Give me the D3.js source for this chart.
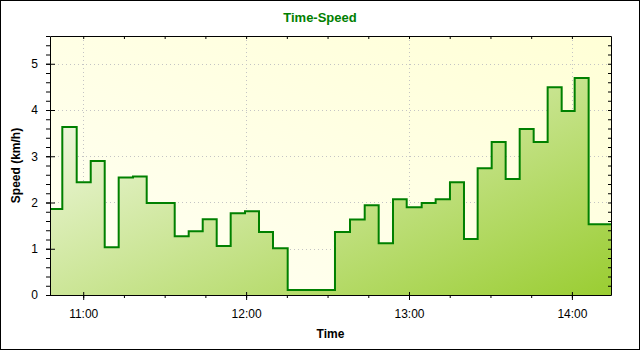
<!DOCTYPE html>
<html>
<head>
<meta charset="utf-8">
<script src="https://cdn.jsdelivr.net/npm/d3@7"></script>
<style>
  body { margin: 0; background: #fff; }
  svg text { font-family: "Liberation Sans", Arial, sans-serif; }
</style>
</head>
<body>
<svg id="chart" width="640" height="350"></svg>
<script>
// sample times (hh:mm:ss) and the speed measured from that time on
var times = ["10:47:46", "10:52:18", "10:57:36", "11:02:46", "11:07:55", "11:13:04",
             "11:18:20", "11:23:23", "11:28:33", "11:33:42", "11:38:51", "11:44:01",
             "11:49:10", "11:54:19", "11:59:35", "12:04:45", "12:09:54", "12:15:19",
             "12:32:44", "12:38:16", "12:43:41", "12:48:50", "12:54:06", "12:59:09",
             "13:04:40", "13:09:49", "13:15:05", "13:20:15", "13:25:17", "13:30:27",
             "13:35:36", "13:40:46", "13:45:55", "13:51:04", "13:56:14", "14:01:01",
             "14:06:10", "14:14:24"];
var speeds = [1.86, 3.63, 2.44, 2.90, 1.03, 2.54,
              2.56, 1.99, 1.99, 1.27, 1.38, 1.64,
              1.06, 1.77, 1.81, 1.36, 1.01, 0.11,
              1.36, 1.63, 1.94, 1.12, 2.07, 1.90,
              1.99, 2.07, 2.44, 1.21, 2.74, 3.31,
              2.51, 3.59, 3.31, 4.49, 3.98, 4.69,
              1.53, 1.53];
var yMajorTicks = [0, 1, 2, 3, 4, 5];
var yMax = 5.6;
var xMajorTicks = ["11:00", "12:00", "13:00", "14:00"];

const parseTime = d3.timeParse("%H:%M:%S");
const parseHM = d3.timeParse("%H:%M");
const data = times.map((t, i) => ({ t: parseTime(t), v: speeds[i] }));

const svg = d3.select("#chart"),
      margin = {top: 36, right: 29, bottom: 55, left: 50},
      width  = +svg.attr("width") - margin.left - margin.right,
      height = +svg.attr("height") - margin.top - margin.bottom;

const x = d3.scaleTime()
    .domain([data[0].t, data[data.length - 1].t])
    .range([margin.left, margin.left + width]);
const y = d3.scaleLinear()
    .domain([0, yMax])
    .range([margin.top + height, margin.top]);

const defs = svg.append("defs");

// plot background: pale yellow, a little stronger toward top right
const bg = defs.append("linearGradient").attr("id", "bgGrad")
    .attr("x1", 0).attr("y1", 1).attr("x2", 1).attr("y2", 0);
bg.append("stop").attr("offset", "0%").attr("stop-color", "#fffff4");
bg.append("stop").attr("offset", "100%").attr("stop-color", "#ffffd6");

// area fill: white at top left to yellow green at bottom right
const fg = defs.append("linearGradient").attr("id", "fillGrad")
    .attr("x1", 0).attr("y1", 0).attr("x2", 1).attr("y2", 1);
fg.append("stop").attr("offset", "0%").attr("stop-color", "#ffffff");
fg.append("stop").attr("offset", "100%").attr("stop-color", "#9acd32");

const area = d3.area()
    .curve(d3.curveStepAfter)
    .x(d => x(d.t))
    .y0(y(0))
    .y1(d => y(d.v));
const line = d3.line()
    .curve(d3.curveStepAfter)
    .x(d => x(d.t))
    .y(d => y(d.v));

defs.append("clipPath").attr("id", "areaClip")
    .append("path").attr("d", area(data));

// outer frame
svg.append("rect")
    .attr("x", 0.5).attr("y", 0.5)
    .attr("width", 639).attr("height", 349)
    .attr("fill", "#fff").attr("stroke", "#000");

svg.append("rect")
    .attr("x", margin.left).attr("y", margin.top)
    .attr("width", width).attr("height", height)
    .attr("fill", "url(#bgGrad)");

// dotted grid
const grid = svg.append("g").attr("stroke", "#c4c4c4").attr("stroke-dasharray", "1,3");
grid.selectAll(".hg").data(yMajorTicks.slice(1)).enter().append("line")
    .attr("x1", margin.left).attr("x2", margin.left + width)
    .attr("y1", d => Math.round(y(d)) + 0.5).attr("y2", d => Math.round(y(d)) + 0.5);
grid.selectAll(".vg").data(xMajorTicks).enter().append("line")
    .attr("y1", margin.top).attr("y2", margin.top + height)
    .attr("x1", d => Math.round(x(parseHM(d))) + 0.5).attr("x2", d => Math.round(x(parseHM(d))) + 0.5);

svg.append("rect")
    .attr("x", margin.left).attr("y", margin.top)
    .attr("width", width).attr("height", height)
    .attr("fill", "url(#fillGrad)")
    .attr("clip-path", "url(#areaClip)");

svg.append("path")
    .datum(data)
    .attr("d", line)
    .attr("fill", "none")
    .attr("stroke", "#008000")
    .attr("stroke-width", 2);

// axes
const yMinor = d3.range(0, yMax + 0.001, 0.2).map(v => +v.toFixed(1));
const xMinor = d3.timeMinute.every(15).range(x.domain()[0], x.domain()[1]);
const xMajor = xMajorTicks.map(parseHM);

function noLabels(g) { g.selectAll("text").remove(); g.select(".domain").remove(); }

// left
svg.append("g").attr("transform", `translate(${margin.left},0)`)
    .call(d3.axisLeft(y).tickValues(yMinor).tickSize(4).tickSizeOuter(0)).call(noLabels);
svg.append("g").attr("transform", `translate(${margin.left},0)`)
    .call(d3.axisRight(y).tickValues(yMajorTicks).tickSize(5)).call(noLabels);
svg.append("g").attr("transform", `translate(${margin.left},0)`)
    .call(d3.axisLeft(y).tickValues(yMajorTicks).tickSize(4).tickPadding(8).tickSizeOuter(0)
        .tickFormat(d3.format("d")))
    .call(g => g.selectAll("text").style("font-size", "12px").attr("fill", "#000"));

// bottom
svg.append("g").attr("transform", `translate(0,${margin.top + height})`)
    .call(d3.axisBottom(x).tickValues(xMinor).tickSize(3).tickSizeOuter(0)).call(noLabels);
svg.append("g").attr("transform", `translate(0,${margin.top + height})`)
    .call(d3.axisTop(x).tickValues(xMajor).tickSize(3)).call(noLabels);
svg.append("g").attr("transform", `translate(0,${margin.top + height})`)
    .call(d3.axisBottom(x).tickValues(xMajor).tickSize(5).tickPadding(9).tickSizeOuter(0)
        .tickFormat(d3.timeFormat("%H:%M")))
    .call(g => g.selectAll("text").style("font-size", "12px").attr("fill", "#000"));

// top and right, ticks pointing inward
svg.append("g").attr("transform", `translate(0,${margin.top})`)
    .call(d3.axisBottom(x).tickValues(xMinor).tickSize(3).tickSizeOuter(0))
    .call(g => g.selectAll("text").remove());
svg.append("g").attr("transform", `translate(${margin.left + width},0)`)
    .call(d3.axisLeft(y).tickValues(yMinor).tickSize(3).tickSizeOuter(0))
    .call(g => g.selectAll("text").remove());

// labels
svg.append("text")
    .attr("x", 320).attr("y", 22)
    .attr("text-anchor", "middle")
    .style("font-size", "13px").style("font-weight", "bold")
    .attr("fill", "#008000")
    .text("Time-Speed");

svg.append("text")
    .attr("x", margin.left + width / 2).attr("y", 338)
    .attr("text-anchor", "middle")
    .style("font-size", "12px").style("font-weight", "bold")
    .text("Time");

svg.append("text")
    .attr("transform", `translate(20,${margin.top + height / 2})rotate(-90)`)
    .attr("text-anchor", "middle")
    .style("font-size", "12px").style("font-weight", "bold")
    .text("Speed (km/h)");
</script>
</body>
</html>
